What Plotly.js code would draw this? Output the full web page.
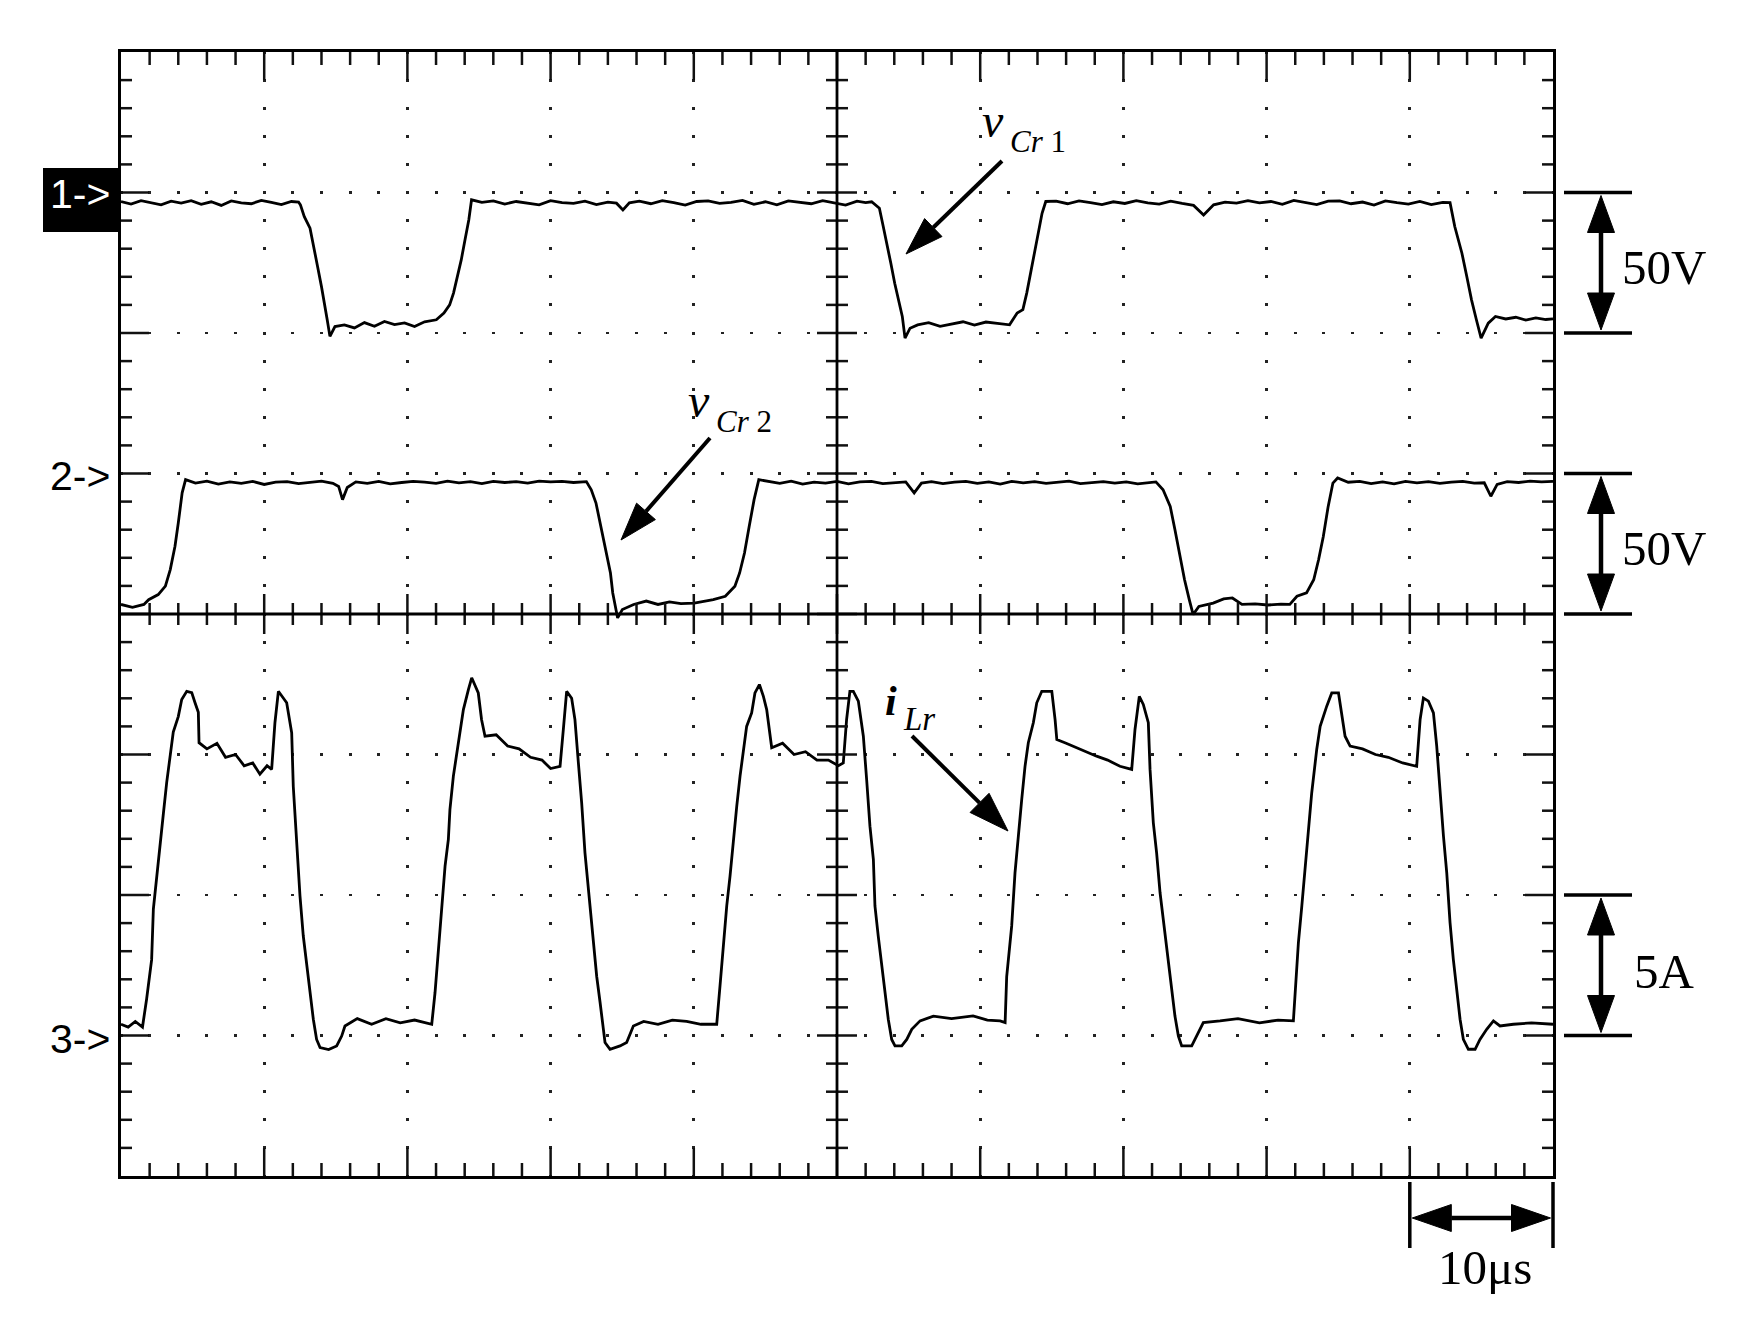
<!DOCTYPE html>
<html><head><meta charset="utf-8">
<script src="https://cdn.plot.ly/plotly-3.0.1.min.js"></script>
<style>html,body{margin:0;padding:0;background:#fff}#chart{width:1762px;height:1321px}</style>
</head><body><div id="chart"></div>
<script>
// ---- channel settings (oscilloscope) ----
const timePerDiv = 10;          // us / div
const ch1VoltsPerDiv = 50;      // v_Cr1
const ch2VoltsPerDiv = 50;      // v_Cr2
const ch3AmpsPerDiv = 5;        // i_Lr
const ch1ZeroDiv = 7, ch2ZeroDiv = 5, ch3ZeroDiv = 1;   // marker positions, divisions from bottom
const markerLabels = ['1-&gt;', '2-&gt;', '3-&gt;'];
const scaleLabels = ['50V', '50V', '5A', '10μs'];

// ---- v_Cr1 (V) vs time (us) ----
const vcr1_t = [0,0.7,1.4,2.1,2.8,3.5,4.2,4.9,5.6,6.3,7.0,7.7,8.4,9.1,9.8,10.5,11.2,11.9,12.4,
12.53,12.8,13.2,13.47,13.73,14.0,14.21,14.4,14.59,14.94,
15.6,16.3,17.0,17.7,18.4,19.1,19.8,20.5,21.2,22.02,
22.55,22.95,23.22,23.49,23.76,24.02,24.29,24.48,
25.2,26.0,26.8,27.6,28.4,29.2,30.0,30.8,31.6,32.4,33.2,34.0,34.6,35.05,35.5,36.2,37.0,37.8,38.6,39.4,40.2,41.0,41.8,42.6,43.4,44.2,45.0,45.8,46.6,47.4,48.2,49.0,49.8,50.6,51.4,52.0,52.42,
52.96,53.23,53.49,53.76,54.03,54.29,54.56,54.75,55.1,55.63,
56.4,57.2,58.0,58.8,59.6,60.4,61.2,62.05,
62.58,62.98,63.25,63.51,63.78,64.05,64.32,64.58,
65.3,66.1,66.9,67.7,68.5,69.3,70.1,70.9,71.7,72.5,73.3,74.1,74.9,75.6,76.3,77.1,77.9,78.7,79.5,80.3,81.1,81.9,82.7,83.5,84.3,85.1,85.9,86.7,87.5,88.3,89.1,89.9,90.7,91.5,92.3,92.81,
93.14,93.64,93.98,94.31,94.65,94.98,95.48,95.98,
96.7,97.4,98.1,98.8,99.5,100];
const vcr1_v = [-3.2,-4.1,-2.9,-3.6,-4.4,-3.1,-3.8,-2.9,-4.2,-3.3,-4.6,-3.0,-3.7,-4.0,-2.8,-3.5,-4.3,-3.2,-3.4,
-4.4,-8.6,-12.7,-19.2,-26.4,-33.5,-40.6,-45.3,-51.2,-47.7,
-47.1,-48.2,-46.3,-47.6,-45.9,-47.0,-46.4,-47.7,-46.0,-45.3,
-42.9,-40.0,-35.8,-29.9,-24.0,-16.9,-9.7,-2.6,
-3.5,-3.0,-4.1,-3.2,-3.7,-4.4,-2.9,-3.6,-3.9,-3.1,-4.3,-3.4,-3.8,-6.2,-3.7,-3.1,-4.0,-2.9,-3.6,-4.5,-3.2,-3.0,-3.9,-3.5,-2.8,-4.2,-3.3,-4.4,-3.0,-3.6,-4.0,-2.9,-3.7,-4.5,-3.1,-3.6,-3.3,
-5.6,-12.1,-19.2,-25.2,-32.3,-38.2,-44.1,-51.8,-48.3,-47.1,
-46.3,-47.6,-46.8,-46.0,-47.2,-46.1,-46.6,-47.1,
-42.9,-41.7,-35.8,-28.7,-21.6,-14.5,-7.4,-3.2,
-3.1,-4.0,-3.0,-3.6,-4.3,-3.3,-3.9,-2.9,-3.7,-4.1,-3.1,-3.9,-4.6,-8.0,-4.4,-3.4,-3.8,-2.9,-3.7,-3.2,-4.2,-2.8,-3.5,-4.3,-3.1,-3.0,-4.0,-3.4,-4.5,-3.0,-3.6,-4.1,-3.2,-4.3,-3.5,-3.6,
-12.1,-21.6,-29.9,-38.2,-45.3,-51.8,-46.5,-44.1,
-45.0,-44.4,-45.4,-44.6,-45.2,-45.0];

// ---- v_Cr2 (V) vs time (us) ----
const vcr2_t = [0,0.8,1.6,1.93,2.6,3.1,3.44,3.77,4.0,4.27,4.51,
5.2,6.0,6.8,7.6,8.4,9.2,10.0,10.8,11.6,12.4,13.2,14.0,14.8,15.2,15.47,15.8,16.4,17.2,18.0,18.8,19.6,20.4,21.2,22.0,22.8,23.6,24.4,25.2,26.0,26.8,27.6,28.4,29.2,30.0,30.8,31.6,32.5,
32.84,33.17,33.51,33.84,34.18,34.34,34.68,35.01,
35.8,36.68,37.5,38.3,39.1,40.03,40.8,41.36,
42.2,42.87,43.2,43.54,43.87,44.21,44.54,
45.2,46.0,46.8,47.6,48.4,49.2,50.0,50.8,51.6,52.4,53.2,54.0,54.8,55.39,55.9,56.6,57.4,58.2,59.0,59.8,60.6,61.4,62.2,63.0,63.8,64.6,65.4,66.2,67.0,67.8,68.6,69.4,70.2,71.0,71.8,72.27,
72.77,73.27,73.6,73.94,74.27,74.6,74.87,75.27,
76.27,77.0,77.61,78.28,79.2,80.1,81.0,81.62,
82.12,82.79,83.29,83.63,83.96,84.3,84.63,84.96,
85.7,86.5,87.3,88.1,88.9,89.7,90.5,91.3,92.1,92.9,93.7,94.5,95.2,95.66,96.1,96.8,97.6,98.4,99.2,100];
const vcr2_v = [-46.6,-47.6,-46.6,-44.9,-43.1,-40.1,-34.2,-25.9,-17.6,-6.9,-2.2,
-3.4,-2.7,-3.8,-3.0,-3.5,-2.8,-3.9,-3.1,-2.9,-3.6,-3.2,-2.7,-3.5,-4.6,-9.3,-5.0,-3.0,-3.5,-2.8,-3.7,-3.2,-2.8,-3.1,-3.5,-2.7,-3.3,-2.9,-3.6,-2.8,-3.2,-2.9,-3.4,-2.7,-3.0,-2.8,-3.2,-2.9,
-5.8,-10.5,-18.8,-25.9,-35.4,-42.5,-51.4,-48.4,
-46.6,-45.4,-46.6,-45.7,-46.3,-46.1,-45.5,-44.9,
-43.7,-40.1,-35.4,-28.3,-18.8,-9.3,-2.2,
-2.9,-3.5,-2.7,-3.8,-3.1,-3.4,-2.8,-3.7,-3.0,-2.8,-3.6,-3.2,-3.0,-6.9,-3.4,-2.9,-3.6,-3.1,-2.8,-3.5,-3.0,-3.8,-2.8,-3.3,-2.9,-3.5,-3.1,-2.7,-3.6,-3.2,-2.9,-3.4,-3.0,-3.7,-3.1,-3.0,
-5.8,-11.7,-20.0,-29.5,-37.8,-44.9,-50.2,-47.3,
-46.1,-44.6,-44.3,-46.6,-46.4,-46.8,-46.5,-46.6,
-43.7,-42.5,-37.8,-30.7,-22.4,-11.7,-3.4,-1.6,
-3.1,-2.8,-3.6,-3.0,-3.7,-2.8,-3.3,-2.9,-3.5,-3.1,-2.8,-3.4,-3.3,-8.1,-3.9,-2.9,-3.2,-2.7,-3.0,-2.8];

// ---- i_Lr (A) vs time (us) ----
const ilr_t = [0,0.5,1.0,1.5,1.79,2.14,2.26,2.49,2.72,2.96,3.19,3.42,3.65,4.0,4.24,4.59,4.94,5.17,5.4,5.45,6.0,6.7,7.3,8.0,8.6,9.2,9.7,10.2,10.52,10.75,10.99,11.57,11.92,12.03,12.27,12.5,12.73,12.97,13.43,13.66,13.9,14.5,15.06,15.41,15.64,16.5,17.5,18.5,19.5,20.5,21.7,
21.93,22.16,22.39,22.63,22.86,22.97,23.21,23.44,23.67,23.91,24.26,24.49,24.95,25.18,25.42,26.2,27.0,27.8,28.6,29.4,30.0,30.66,30.89,31.12,31.47,31.7,31.94,32.17,32.4,32.64,32.87,33.22,33.45,33.8,34.15,34.85,35.31,35.78,36.5,37.5,38.5,39.5,40.5,41.6,
41.83,42.06,42.3,42.53,42.76,43.0,43.23,43.46,43.69,44.04,44.27,44.58,44.86,45.09,45.32,45.44,46.2,47.0,47.8,48.6,49.4,50.1,50.44,50.67,50.9,51.14,51.49,51.84,52.07,52.3,52.54,52.65,52.88,53.12,53.35,53.58,53.82,54.05,54.52,54.87,55.22,55.8,56.73,58.0,59.5,60.5,61.39,61.74,
61.85,62.2,62.43,62.67,62.9,63.13,63.36,63.71,63.95,64.3,65.0,65.23,65.35,66.0,66.97,68.13,68.9,69.76,70.58,70.81,71.11,71.39,71.74,71.86,72.09,72.32,72.56,72.91,73.14,73.37,73.6,73.84,74.07,74.77,75.12,75.58,76.75,78.0,79.5,80.8,81.87,
81.99,82.22,82.46,82.69,82.92,83.15,83.5,83.74,84.2,84.55,85.02,85.25,85.48,85.83,86.7,87.6,88.5,89.5,90.48,90.72,90.95,91.3,91.65,91.88,92.11,92.35,92.58,92.81,93.04,93.28,93.51,93.74,94.09,94.56,94.9,95.37,95.84,96.3,97.23,98.5,99.8,100];
const ilr_i = [0.4,0.3,0.5,0.3,1.3,2.7,4.5,5.55,6.7,7.9,9.0,9.9,10.8,11.35,11.96,12.25,12.2,11.84,11.5,10.42,10.2,10.4,9.9,10.0,9.6,9.7,9.3,9.6,9.47,11.13,12.25,11.84,10.77,8.87,6.86,4.96,3.54,2.47,0.58,-0.14,-0.43,-0.5,-0.37,-0.02,0.34,0.6,0.4,0.6,0.45,0.55,0.4,
1.53,3.07,4.73,6.03,6.98,8.04,9.23,10.06,10.89,11.6,12.31,12.73,12.19,11.24,10.65,10.7,10.3,10.2,9.9,9.8,9.5,9.58,10.89,12.25,12.0,11.24,9.7,8.28,6.5,5.2,3.9,2.1,1.2,-0.25,-0.49,-0.37,-0.25,0.34,0.5,0.4,0.55,0.5,0.4,0.4,
1.77,3.15,4.61,5.67,6.98,8.16,9.23,10.18,11.0,11.48,12.19,12.49,12.07,11.6,10.77,10.24,10.4,10.0,10.1,9.8,9.8,9.6,9.7,11.24,12.25,12.25,11.9,10.65,9.11,7.45,6.27,4.61,3.54,2.47,1.53,0.58,-0.14,-0.37,-0.37,-0.14,0.22,0.52,0.69,0.6,0.7,0.55,0.52,0.46,
2.1,3.9,5.79,7.21,8.4,9.58,10.42,11.13,11.84,12.25,12.25,11.24,10.53,10.4,10.18,9.94,9.8,9.58,9.47,10.89,12.07,11.78,11.13,9.47,7.57,6.5,5.08,3.54,2.59,1.53,0.69,-0.02,-0.37,-0.37,-0.02,0.46,0.52,0.6,0.45,0.55,0.52,
1.53,3.3,4.61,5.91,7.21,8.63,10.18,11.0,11.72,12.19,12.19,11.48,10.65,10.3,10.2,10.0,9.9,9.7,9.58,11.24,12.01,11.9,11.48,10.3,8.63,7.1,5.79,4.02,2.71,1.53,0.58,-0.14,-0.49,-0.49,-0.14,0.22,0.52,0.34,0.4,0.45,0.4,0.4];

// ---- page geometry ----
const FW = 1762, FH = 1321;
const ML = 121, MT = 52, MR = 209, MB = 145;
const PW = FW - ML - MR, PH = FH - MT - MB;
const nDivX = 10, nDivY = 8, nSub = 5;
const px = x => (x - ML) / PW;
const py = y => 1 - (y - MT) / PH;
const gy = k => MT + k * PH / nDivY;   // graticule line k from top
const gx = k => ML + k * PW / nDivX;

const stepX = PW / (nDivX * nSub), stepY = PH / (nDivY * nSub);
const dashForVertical = `1.5px,${(stepY - 3).toFixed(2)}px,1.5px,0px`;
const dashForHorizontal = `1.5px,${(stepX - 3).toFixed(2)}px,1.5px,0px`;

// channel value -> screen division (oscilloscope vertical position/scale)
const toDiv = (vals, zeroDiv, perDiv) => vals.map(v => zeroDiv + v / perDiv);

// ---- drawing helpers (pixel -> paper) ----
function line(p0, p1, w, col) {
  return {type:'line', xref:'paper', yref:'paper', layer:'above', x0:px(p0[0]), y0:py(p0[1]), x1:px(p1[0]), y1:py(p1[1]), line:{color:col || '#000', width:w}};
}
function head(tip, dirx, diry, len, hw) {
  const d = Math.hypot(dirx, diry), ux = dirx / d, uy = diry / d, nx = -uy, ny = ux;
  const bx = tip[0] - ux * len, by = tip[1] - uy * len;
  return {
    base: [bx, by],
    shape: {type:'path', xref:'paper', yref:'paper', layer:'above',
      path:`M${px(tip[0])},${py(tip[1])} L${px(bx + nx*hw)},${py(by + ny*hw)} L${px(bx - nx*hw)},${py(by - ny*hw)} Z`,
      fillcolor:'#000', line:{color:'#000', width:1}}
  };
}
function arrow(tail, tip, len, hw, w) {
  const h = head(tip, tip[0]-tail[0], tip[1]-tail[1], len, hw);
  return [line(tail, h.base, w), h.shape];
}
function dblArrow(a, b, len, hw, w) {
  const h1 = head(a, a[0]-b[0], a[1]-b[1], len, hw);
  const h2 = head(b, b[0]-a[0], b[1]-a[1], len, hw);
  return [line(h1.base, h2.base, w), h1.shape, h2.shape];
}

let shapes = [];
// graticule ticks: edges (inward) and centre cross (both sides)
const tw = 2.5, tcol = '#111';
const nX = nDivX * nSub, nY = nDivY * nSub;
for (let k = 1; k < nX; k++) {
  const x = ML + k * stepX, major = k % nSub === 0;
  const le = major ? 28 : 13, lc = major ? 20 : 11;
  shapes.push(line([x, MT], [x, MT + le], tw, tcol));
  shapes.push(line([x, MT + PH], [x, MT + PH - le], tw, tcol));
  shapes.push(line([x, gy(4) - lc], [x, gy(4) + lc], tw, tcol));
}
for (let j = 1; j < nY; j++) {
  const y = MT + j * stepY, major = j % nSub === 0;
  const le = major ? 28 : 11, lc = major ? 20 : 11;
  shapes.push(line([ML, y], [ML + le, y], tw, tcol));
  shapes.push(line([ML + PW, y], [ML + PW - le, y], tw, tcol));
  shapes.push(line([gx(5) - lc, y], [gx(5) + lc, y], tw, tcol));
}
shapes.push(line([ML, gy(4)], [ML + PW, gy(4)], 2.8));
shapes.push(line([gx(5), MT], [gx(5), MT + PH], 2.8));

// channel 1 marker box
shapes.push({type:'rect', xref:'paper', yref:'paper', layer:'above', x0:px(43), x1:px(ML), y0:py(168), y1:py(232), fillcolor:'#000', line:{width:0}});
// vertical scale bars
[[1,2],[3,4],[6,7]].forEach(([a,b]) => {
  const ya = gy(a), yb = gy(b);
  shapes.push(line([1564, ya], [1632, ya], 3.5));
  shapes.push(line([1564, yb], [1632, yb], 3.5));
  shapes = shapes.concat(dblArrow([1601, ya + 3], [1601, yb - 3], 37, 13.5, 4.5));
});
// time scale bar
shapes.push(line([gx(9), 1182], [gx(9), 1248], 3.5));
shapes.push(line([gx(10), 1182], [gx(10), 1248], 3.5));
shapes = shapes.concat(dblArrow([gx(9) + 2.5, 1218], [gx(10) - 2.5, 1218], 39, 13.5, 4.5));
// label arrows
shapes = shapes.concat(arrow([1002, 161], [906, 254], 38, 12.5, 4));
shapes = shapes.concat(arrow([710, 438], [621, 540], 38, 12.5, 4));
shapes = shapes.concat(arrow([912, 736], [1008, 831], 40, 13.5, 4));

function txt(text, x, y, size, family, opts) {
  return Object.assign({text, xref:'paper', yref:'paper', x:px(x), y:py(y), showarrow:false,
    xanchor:'center', yanchor:'middle', borderpad:0, borderwidth:0,
    font:{family, size, color:'#000'}}, opts || {});
}
const sans = 'Liberation Sans, Arial, sans-serif';
const serif = 'Liberation Serif, Times New Roman, serif';
const annotations = [
  txt(markerLabels[0], 80, 194, 41, sans, {font:{family:sans, size:41, color:'#fff'}}),
  txt(markerLabels[1], 80, 476, 41, sans),
  txt(markerLabels[2], 80, 1039, 41, sans),
  txt(scaleLabels[0], 1664, 267, 49, serif),
  txt(scaleLabels[1], 1664, 548, 49, serif),
  txt(scaleLabels[2], 1664, 971, 49, serif),
  txt(scaleLabels[3], 1485, 1267, 49, serif),
  txt('<i>v</i>', 982, 120, 48, serif, {xanchor:'left'}),
  txt('<i>Cr</i> 1', 1010, 141.5, 31, serif, {xanchor:'left'}),
  txt('<i>v</i>', 688, 400, 48, serif, {xanchor:'left'}),
  txt('<i>Cr</i> 2', 716, 421.5, 31, serif, {xanchor:'left'}),
  txt('<b><i>i</i></b>', 885, 701, 42, serif, {xanchor:'left'}),
  txt('<i>Lr</i>', 903, 719, 33, serif, {xanchor:'left'})
];

const traceLine = {color:'#000', width:2.8};
const data = [
  {type:'scatter', mode:'lines', name:'vCr1', x:vcr1_t, y:toDiv(vcr1_v, ch1ZeroDiv, ch1VoltsPerDiv), line:traceLine, hoverinfo:'skip'},
  {type:'scatter', mode:'lines', name:'vCr2', x:vcr2_t, y:toDiv(vcr2_v, ch2ZeroDiv, ch2VoltsPerDiv), line:traceLine, hoverinfo:'skip'},
  {type:'scatter', mode:'lines', name:'iLr', x:ilr_t, y:toDiv(ilr_i, ch3ZeroDiv, ch3AmpsPerDiv), line:traceLine, hoverinfo:'skip'}
];

function frameAxis(range, dtick, dash) {
  return {range, tick0:0, dtick, showline:true, linecolor:'#000', linewidth:3, mirror:true,
    ticks:'', showgrid:true, gridcolor:'#222', gridwidth:2.8, griddash:dash,
    zeroline:false, showticklabels:false, fixedrange:true};
}
const layout = {
  width:FW, height:FH, margin:{l:ML, r:MR, t:MT, b:MB, pad:0},
  paper_bgcolor:'#fff', plot_bgcolor:'#fff', showlegend:false, hovermode:false,
  xaxis: frameAxis([0, nDivX * timePerDiv], timePerDiv, dashForVertical),
  yaxis: frameAxis([0, nDivY], 1, dashForHorizontal),
  shapes, annotations
};
Plotly.newPlot('chart', data, layout, {staticPlot:true, displayModeBar:false});
</script></body></html>
